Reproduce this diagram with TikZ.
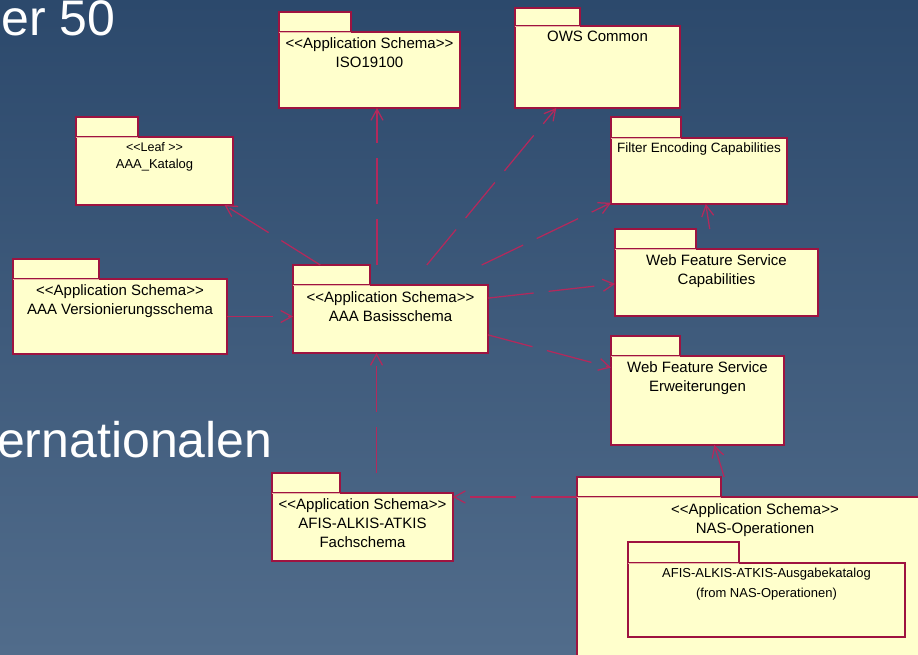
\documentclass[tikz,border=0pt]{standalone}
\usepackage{fontspec}
\setmainfont{Liberation Sans}
\usetikzlibrary{positioning,arrows.meta}

\definecolor{bgtop}{HTML}{2C496C}
\definecolor{bgbottom}{HTML}{516C8B}
\definecolor{pkgfill}{HTML}{FFFFCC}
\definecolor{pkgborder}{HTML}{9E1340}
\definecolor{pkgsepline}{HTML}{E8B8A4}
\definecolor{depline}{HTML}{B3295C}

\newcommand{\stereo}[1]{<{}<#1>{}>}

\begin{document}
\begin{tikzpicture}[x=1pt,y=-1pt,
    pkg/.style={anchor=north west, inner sep=0pt, outer sep=0pt},
    pkgline/.style={draw=pkgborder, fill=pkgfill, line width=1.1pt},
    pkgsep/.style={draw=pkgsepline, line width=0.9pt},
    pkgtext/.style={align=center, inner sep=0pt, font=\fontsize{15}{19}\selectfont},
    smalltext/.style={pkgtext, font=\fontsize{12.5}{17}\selectfont},
    slidetext/.style={anchor=base west, inner sep=0pt, text=white, font=\fontsize{50}{56}\selectfont},
    dep/.style={draw=depline, line width=1.25pt, dash pattern=on 46pt off 15pt,
      -{Straight Barb[length=11pt,width=12pt]}}
  ]
  \useasboundingbox (0,0) rectangle (918,654);
  \clip (0,0) rectangle (918,654);
  \shade[top color=bgtop, bottom color=bgbottom] (0,0) rectangle (918,654);

  \node[slidetext] (title-top) at (1,35) {er 50};
  \node[slidetext] (title-mid) at (-3,457) {ernationalen};

  \foreach \n/\x/\y/\w/\h/\tw/\th in {
      iso/279/12/181/96/72/20,
      ows/515/8/165/100/65/18,
      kat/76/117/157/88/62/20,
      fec/611/117/176/87/70/21,
      wfsc/615/229/203/87/81/20,
      ver/13/259/214/95/86/20,
      bas/293/265/195/88/77/20,
      wfse/611/336/173/109/69/20,
      fach/272/473/181/88/68/20,
      nas/577/477/356/200/144/20,
      ausg/628/542/277/95/111/21}{
    \node[pkg, minimum width=\w pt, minimum height=\h pt] (\n) at (\x,\y) {};
    \draw[pkgline] ([yshift=-\th pt]\n.north west) rectangle (\n.south east);
    \draw[pkgline] (\n.north west) rectangle ++(\tw pt,-\th pt);
    \draw[pkgsep] ([yshift=-\th pt]\n.north west) -- ++(\tw pt,0);
  }

  \node[pkgtext, below=25pt of iso.north] (iso-text) {\stereo{Application Schema}\\ISO19100};
  \node[pkgtext, below=23pt of ows.north] (ows-text) {OWS Common};
  \node[smalltext, below=25pt of kat.north] (kat-text) {\stereo{Leaf }\\{\fontsize{13}{17}\selectfont AAA\_Katalog}};
  \node[pkgtext, font=\fontsize{13.5}{18}\selectfont, below=26pt of fec.north] (fec-text) {Filter Encoding Capabilities};
  \node[pkgtext, below=25pt of wfsc.north] (wfsc-text) {Web Feature Service\\Capabilities};
  \node[pkgtext, below=25pt of ver.north] (ver-text) {\stereo{Application Schema}\\AAA Versionierungsschema};
  \node[pkgtext, below=26pt of bas.north] (bas-text) {\stereo{Application Schema}\\AAA Basisschema};
  \node[pkgtext, below=25pt of wfse.north] (wfse-text) {Web Feature Service\\Erweiterungen};
  \node[pkgtext, below=25pt of fach.north] (fach-text) {\stereo{Application Schema}\\AFIS-ALKIS-ATKIS\\Fachschema};
  \node[pkgtext, below=26pt of nas.north] (nas-text) {\stereo{Application Schema}\\NAS-Operationen};
  \node[pkgtext, font=\fontsize{13}{20}\selectfont, below=26pt of ausg.north] (ausg-text) {AFIS-ALKIS-ATKIS-Ausgabekatalog\\(from NAS-Operationen)};

  \coordinate (iso-in) at ([xshift=7.5pt]iso.south);
  \coordinate (bas-in) at ([xshift=-14pt]bas.south);
  \coordinate (fach-in) at ([yshift=20pt]fach.east);
  \coordinate (ver-out) at ([yshift=-10pt]ver.east);

  \draw[dep] (bas.north -| iso-in) -- (iso-in);
  \draw[dep] (bas) -- (ows);
  \draw[dep] (bas) -- (kat);
  \draw[dep] (bas) -- (fec);
  \draw[dep] (bas) -- (wfsc);
  \draw[dep] (bas) -- (wfse);
  \draw[dep] (wfsc) -- (fec);
  \draw[dep] (ver-out) -- (bas.west |- ver-out);
  \draw[dep] (fach.north -| bas-in) -- (bas-in);
  \draw[dep] (nas.west |- fach-in) -- (fach-in);
  \draw[dep] (nas) -- (wfse);
\end{tikzpicture}
\end{document}
